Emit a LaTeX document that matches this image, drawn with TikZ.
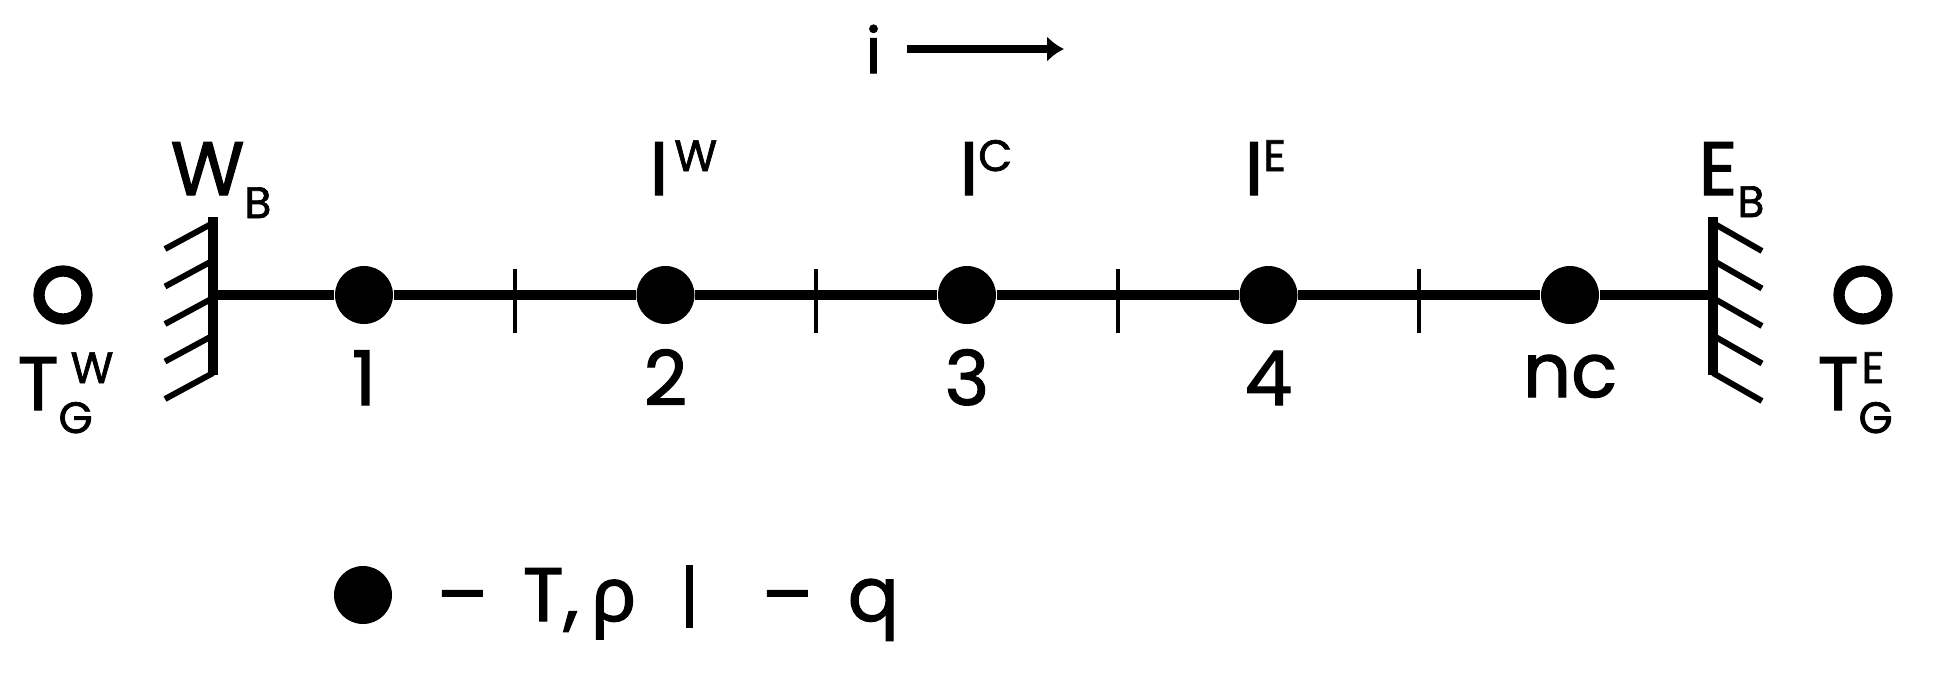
\documentclass[tikz,border=0pt]{standalone}
\usepackage{fontspec}
\setmainfont{Poppins}[FakeBold=1.6]
\newfontfamily\grec{Noto Sans}[FakeBold=1.6]
\usetikzlibrary{arrows.meta}
\newcommand{\grand}{\fontsize{21.5pt}{26pt}\selectfont}
\newcommand{\petit}{\fontsize{12.5pt}{14pt}\selectfont}

\begin{document}
\begin{tikzpicture}
\tikzstyle{barre}=[line width=3.1pt]
\tikzset{cellule/.style={circle,fill=black,inner sep=0pt,minimum size=0.58cm},
fantome/.style={circle,draw,line width=3.2pt,inner sep=0pt,minimum size=0.48cm},
hachure/.style={line width=1.7pt},
face/.style={line width=1.4pt},
texte/.style={font=\grand,inner sep=0pt,anchor=base west},
numero/.style={font=\grand,inner sep=0pt,anchor=base}}
\useasboundingbox (0,0) rectangle (19.5,-6.86);

% sens de i
\node[font=\fontsize{18pt}{22pt}\selectfont,inner sep=0pt,anchor=base west] (i) at (8.65,-0.73) {i};
\coordinate (idebut) at (9.07,-0.49);
\coordinate (ifin) at (10.64,-0.49);
\draw[line width=2pt,-{Latex[length=0.17cm,width=0.26cm]}] (idebut) -- (ifin);

% parois
\coordinate (wb) at (2.13,-2.95);
\coordinate (eb) at (17.13,-2.95);
\draw[barre] ([yshift=0.78cm]wb) -- ([yshift=-0.80cm]wb);
\draw[barre] ([yshift=0.78cm]eb) -- ([yshift=-0.80cm]eb);
\foreach \k in {0,...,4}{
\draw[hachure] ([yshift=0.72cm-0.375cm*\k]wb) -- ++(-0.48,-0.26);
\draw[hachure] ([yshift=0.72cm-0.375cm*\k]eb) -- ++(0.49,-0.28);
}

% cellules
\node[cellule] (c1) at (3.64,-2.95) {};
\node[cellule] (c2) at (6.655,-2.95) {};
\node[cellule] (c3) at (9.67,-2.95) {};
\node[cellule] (c4) at (12.685,-2.95) {};
\node[cellule] (cnc) at (15.70,-2.95) {};
\draw[barre] (wb) -- (c1) -- (c2) -- (c3) -- (c4) -- (cnc) -- (eb);
\foreach \x in {5.15,8.16,11.18,14.19}
\draw[face] (\x,-2.69) -- (\x,-3.33);

\node[numero] (n1) at (3.64,-4.05) {1};
\node[numero] (n2) at (6.655,-4.05) {2};
\node[numero] (n3) at (9.67,-4.05) {3};
\node[numero] (n4) at (12.685,-4.05) {4};
\node[numero] (nnc) at (15.70,-3.97) {nc};

% cellules fantomes
\node[fantome] (gw) at (0.63,-2.95) {};
\node[fantome] (ge) at (18.63,-2.95) {};
\node[texte] (tgw) at (0.17,-4.10) {T\rlap{\hspace{0.12cm}\raisebox{0.27cm}{\petit W}}\raisebox{-0.23cm}{\petit G}};
\node[texte] (tge) at (18.17,-4.10) {T\rlap{\hspace{0.03cm}\raisebox{0.27cm}{\petit E}}\raisebox{-0.23cm}{\petit G}};

% etiquettes du haut
\node[texte] (wbl) at (1.70,-1.95) {W\raisebox{-0.23cm}{\petit B}};
\node[texte] (ebl) at (16.98,-1.95) {E\raisebox{-0.22cm}{\petit B}};
\node[texte] (iw) at (6.49,-1.95) {I\hspace{0.06cm}\raisebox{0.24cm}{\petit W}};
\node[texte] (ic) at (9.59,-1.95) {I\raisebox{0.24cm}{\petit C}};
\node[texte] (ie) at (12.44,-1.95) {I\raisebox{0.24cm}{\petit E}};

% legende
\node[cellule] (leg) at (3.63,-5.95) {};
\node[texte] (legt) at (4.36,-6.21) {–\hspace{0.35cm}T,\,{\grec ρ}};
\draw[line width=2pt] (6.895,-5.65) -- (6.895,-6.28);
\node[texte] (legq) at (7.61,-6.21) {–\hspace{0.35cm}q};

\end{tikzpicture}
\end{document}
